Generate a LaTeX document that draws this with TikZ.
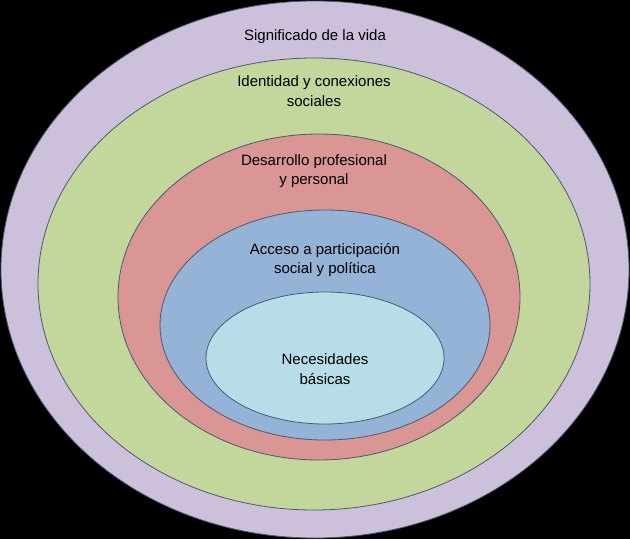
\documentclass[tikz,border=0pt]{standalone}
\usepackage{fontspec}
\setmainfont{Liberation Sans}
\usetikzlibrary{shapes.geometric}
\definecolor{cpur}{HTML}{CCC0DA}
\definecolor{cgrn}{HTML}{C3D69B}
\definecolor{cred}{HTML}{D99694}
\definecolor{cblu}{HTML}{95B3D7}
\definecolor{clig}{HTML}{B7DEE8}
\definecolor{cline}{HTML}{4A5A70}
\begin{document}
\begin{tikzpicture}[x=1pt,y=-1pt,
  ring/.style={ellipse,draw=cline,line width=0.8pt,inner sep=0pt},
  lbl/.style={align=center,font=\fontsize{15}{19.5}\selectfont,text=black}]
\fill[black] (0,0) rectangle (630,539);
\useasboundingbox (0,0) rectangle (630,539);
\node[ring,fill=cpur,minimum width=628,minimum height=537] (e1) at (315,269.5) {};
\node[ring,fill=cgrn,minimum width=552,minimum height=452] (e2) at (314,284) {};
\node[ring,fill=cred,minimum width=402,minimum height=326] (e3) at (319,297) {};
\node[ring,fill=cblu,minimum width=330,minimum height=230] (e4) at (325,325) {};
\node[ring,fill=clig,minimum width=238,minimum height=132] (e5) at (325,358) {};
\node[lbl] (t1) at (315,37) {Significado de la vida};
\node[lbl] (t2) at (314,91) {Identidad y conexiones\\sociales};
\node[lbl] (t3) at (314,171) {Desarrollo profesional\\y personal};
\node[lbl] (t4) at (325,260) {Acceso a participación\\social y política};
\node[lbl] (t5) at (325,369) {Necesidades\\básicas};
\end{tikzpicture}
\end{document}
